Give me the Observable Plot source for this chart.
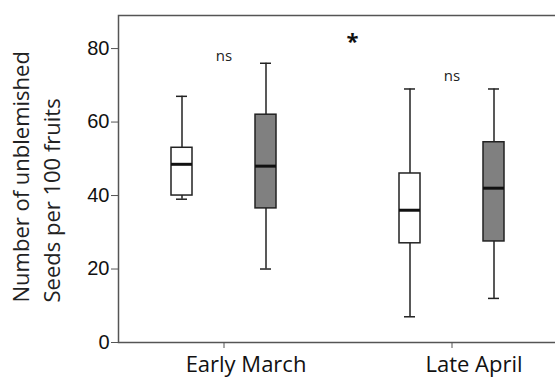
<!DOCTYPE html>
<html><head><meta charset="utf-8">
<script src="https://cdn.jsdelivr.net/npm/d3@7"></script>
<script src="https://cdn.jsdelivr.net/npm/@observablehq/plot@0.6"></script>
<style>body{margin:0;background:#fff}</style>
</head><body><div id="chart"></div>
<script>
const periods = ["Early March", "Late April"];
const groups = ["white", "grey"];
const boxPeriod = ["Early March", "Early March", "Late April", "Late April"];
const boxGroup = ["white", "grey", "white", "grey"];
const whiskerLow = [39, 20, 7, 12];
const q1 = [40, 36.5, 27, 27.5];
const median = [48.5, 48, 36, 42];
const q3 = [53, 62, 46, 54.5];
const whiskerHigh = [67, 76, 69, 69];
const yTicks = [0, 20, 40, 60, 80];
const nsPeriods = ["Early March", "Late April"];
const nsY = [77.8, 72.5];
const starPeriod = ["Late April"];
const starY = [81.8];
const yLabel = "Number of unblemished\nSeeds per 100 fruits";

const boxes = boxPeriod.map((p, i) => ({period: p, group: boxGroup[i], low: whiskerLow[i], q1: q1[i], median: median[i], q3: q3[i], high: whiskerHigh[i]}));
const ns = nsPeriods.map((p, i) => ({period: p, y: nsY[i], label: "ns"}));
const star = starPeriod.map((p, i) => ({period: p, y: starY[i], label: "*"}));

const plot = Plot.plot({
  width: 555, height: 378,
  marginLeft: 117, marginRight: -3, marginTop: 15, marginBottom: 36,
  style: {background: "#fff", fontFamily: "Open Sans"},
  fx: {domain: periods, paddingInner: 0.074, paddingOuter: 0},
  x: {domain: groups, paddingInner: 0.7515, paddingOuter: 0.63, axis: null},
  y: {domain: [0, 89]},
  color: {domain: groups, range: ["#ffffff", "#666666"]},
  marks: [
    Plot.frame({facet: "super", stroke: "#555", strokeWidth: 1.5}),
    Plot.ruleX(boxes, {fx: "period", x: "group", y1: "low", y2: "q1", stroke: "#222", strokeWidth: 1.5}),
    Plot.ruleX(boxes, {fx: "period", x: "group", y1: "q3", y2: "high", stroke: "#222", strokeWidth: 1.5}),
    Plot.tickY(boxes, {fx: "period", x: "group", y: "low", insetLeft: 5, insetRight: 5, stroke: "#222", strokeWidth: 1.5}),
    Plot.tickY(boxes, {fx: "period", x: "group", y: "high", insetLeft: 5, insetRight: 5, stroke: "#222", strokeWidth: 1.5}),
    Plot.barY(boxes, {fx: "period", x: "group", y1: "q1", y2: "q3", fill: "group", stroke: "#222", strokeWidth: 1.5}),
    Plot.tickY(boxes, {fx: "period", x: "group", y: "median", stroke: "#111", strokeWidth: 3}),
    Plot.axisY({ticks: yTicks, tickSize: 7, tickPadding: 2, fontSize: 20, fontFamily: "Liberation Sans", label: null, stroke: "#555", fill: "#111"}),
    Plot.axisFx({anchor: "bottom", tickSize: 6, text: null, label: null, stroke: "#555"}),
    Plot.axisFx({anchor: "bottom", tickSize: 0, tickPadding: 13.5, dx: 22, fontSize: 22, label: null, fill: "#111"}),
    Plot.text(ns, {fx: "period", y: "y", text: "label", fontSize: 15, fill: "#222"}),
    Plot.text(star, {fx: "period", y: "y", text: "label", frameAnchor: "left", fontSize: 22, fontWeight: "bold", fill: "#111"}),
    Plot.text([yLabel], {facet: "super", frameAnchor: "bottom-left", rotate: -90, textAnchor: "start", lineAnchor: "middle", dx: -83.5, dy: -40, fontSize: 22, lineHeight: 1.4, fill: "#222", text: d => d})
  ]
});
document.getElementById("chart").appendChild(plot);
</script>
</body></html>
